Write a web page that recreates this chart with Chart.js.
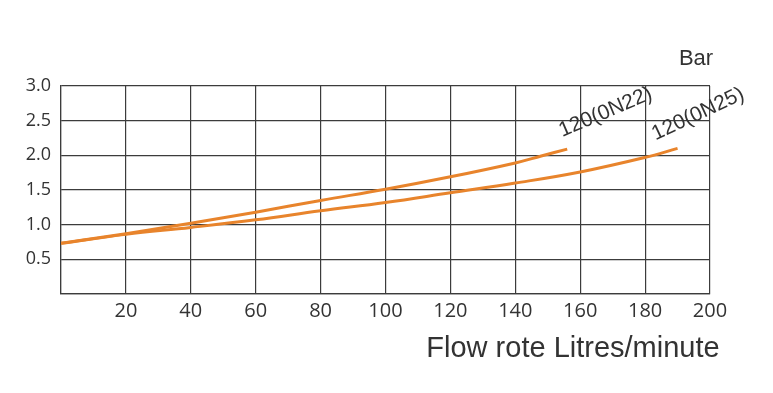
<!DOCTYPE html>
<html>
<head>
<meta charset="utf-8">
<script src="https://cdn.jsdelivr.net/npm/chart.js@4"></script>
<style>
  html, body { margin: 0; padding: 0; background: #fff; }
  .chart { width: 773px; height: 393px; }
</style>
</head>
<body>
<div class="chart"><canvas id="flow-chart"></canvas></div>
<script>
const flow = [0, 20, 40, 60, 80, 100, 120, 140, 148, 156];
const pressureN22 = [0.73, 0.87, 1.02, 1.18, 1.35, 1.51, 1.69, 1.89, 1.99, 2.09];

const flowN25 = [0, 20, 40, 60, 80, 100, 120, 140, 160, 180, 190];
const pressureN25 = [0.73, 0.86, 0.96, 1.07, 1.2, 1.32, 1.46, 1.6, 1.76, 1.97, 2.1];

const seriesNames = ['120(0N22)', '120(0N25)'];
const xTitle = 'Flow rote Litres/minute';
const yTitle = 'Bar';

const orange = '#e8842c';
const gridColor = '#3c3c3c';
const textColor = '#333';

const toPoints = (xs, ys) => xs.map((x, i) => ({ x, y: ys[i] }));

// label text sits above the end of each curve, slanted like the curve
const curveLabels = {
  id: 'curveLabels',
  afterDatasetsDraw(chart) {
    const { ctx, scales } = chart;
    const offsets = [
      { dx: -5, dy: -12, angle: -23 },
      { dx: -22, dy: -8, angle: -25 },
    ];
    ctx.save();
    ctx.fillStyle = textColor;
    ctx.font = '21px "Liberation Sans", Arial, sans-serif';
    ctx.textBaseline = 'alphabetic';
    chart.data.datasets.forEach((ds, i) => {
      const last = ds.data[ds.data.length - 1];
      const px = scales.x.getPixelForValue(last.x) + offsets[i].dx;
      const py = scales.y.getPixelForValue(last.y) + offsets[i].dy;
      ctx.save();
      ctx.translate(px, py);
      ctx.rotate((offsets[i].angle * Math.PI) / 180);
      ctx.fillText(seriesNames[i], 0, 0);
      ctx.restore();
    });
    ctx.font = '22px "Liberation Sans", Arial, sans-serif';
    ctx.textAlign = 'center';
    ctx.textBaseline = 'middle';
    ctx.fillText(yTitle, 696, 59);
    ctx.font = '29px "Liberation Sans", Arial, sans-serif';
    ctx.fillText(xTitle, 573, 349);
    ctx.restore();
  },
};

new Chart(document.getElementById('flow-chart'), {
  type: 'line',
  data: {
    datasets: [
      {
        label: seriesNames[0],
        data: toPoints(flow, pressureN22),
        borderColor: orange,
        borderWidth: 3,
        pointRadius: 0,
        tension: 0.4,
      },
      {
        label: seriesNames[1],
        data: toPoints(flowN25, pressureN25),
        borderColor: orange,
        borderWidth: 3,
        pointRadius: 0,
        tension: 0.4,
      },
    ],
  },
  options: {
    animation: false,
    responsive: true,
    maintainAspectRatio: false,
    layout: { padding: { left: 0, right: 63, top: 86, bottom: 59 } },
    scales: {
      x: {
        type: 'linear',
        min: 0,
        max: 200,
        afterFit: (axis) => { axis.height = 40; },
        grid: { color: gridColor, lineWidth: 1.2, drawTicks: false },
        border: { color: gridColor, width: 1.2 },
        ticks: {
          stepSize: 20,
          padding: 5,
          color: textColor,
          font: { family: '"Open Sans", sans-serif', size: 20 },
          callback: (value) => (value === 0 ? '' : value),
        },
      },
      y: {
        min: 0,
        max: 3,
        afterFit: (axis) => { axis.width = 61; },
        grid: { color: gridColor, lineWidth: 1.2, drawTicks: false },
        border: { color: gridColor, width: 1.2 },
        ticks: {
          stepSize: 0.5,
          padding: 10,
          color: textColor,
          font: { family: '"Open Sans", sans-serif', size: 18 },
          callback: (value) => (value === 0 ? '' : value.toFixed(1)),
        },
      },
    },
    plugins: {
      legend: { display: false },
      tooltip: { enabled: false },
    },
  },
  plugins: [curveLabels],
});
</script>
</body>
</html>
